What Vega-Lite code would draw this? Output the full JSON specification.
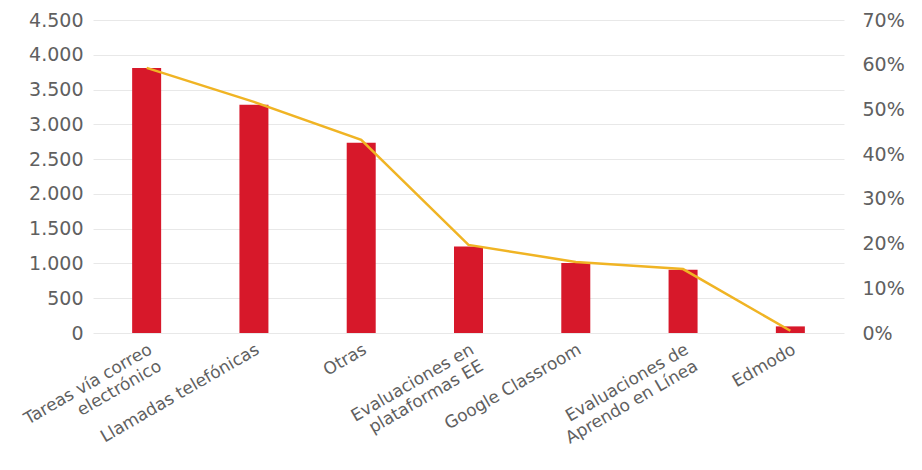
{
  "$schema": "https://vega.github.io/schema/vega-lite/v6.json",
  "width": 751,
  "height": 313,
  "autosize": {"type": "none"},
  "padding": {"left": 93, "top": 20, "right": 78, "bottom": 137},
  "background": "white",
  "config": {
    "view": {"stroke": null},
    "font": "DejaVu Sans",
    "axis": {"labelFont": "DejaVu Sans", "labelColor": "#606060", "labelFontSize": 19, "domain": false, "ticks": false}
  },
  "data": {
    "values": [
      {"canal": "Tareas vía correo electrónico", "cantidad": 3810, "pct": 0.593},
      {"canal": "Llamadas telefónicas", "cantidad": 3280, "pct": 0.517},
      {"canal": "Otras", "cantidad": 2735, "pct": 0.432},
      {"canal": "Evaluaciones en plataformas EE", "cantidad": 1245, "pct": 0.197},
      {"canal": "Google Classroom", "cantidad": 1005, "pct": 0.159},
      {"canal": "Evaluaciones de Aprendo en Línea", "cantidad": 910, "pct": 0.143},
      {"canal": "Edmodo", "cantidad": 95, "pct": 0.005}
    ]
  },
  "encoding": {
    "x": {
      "field": "canal",
      "type": "nominal",
      "sort": null,
      "scale": {"paddingInner": 0.73, "paddingOuter": 0.365},
      "axis": {
        "title": null,
        "labelAngle": -30,
        "labelFontSize": 17,
        "labelPadding": 8,
        "labelExpr": "datum.value == 'Tareas vía correo electrónico' ? ['Tareas vía correo', 'electrónico'] : datum.value == 'Evaluaciones en plataformas EE' ? ['Evaluaciones en', 'plataformas EE'] : datum.value == 'Evaluaciones de Aprendo en Línea' ? ['Evaluaciones de', 'Aprendo en Línea'] : datum.value"
      }
    }
  },
  "layer": [
    {
      "mark": {"type": "bar", "color": "#D7182A", "size": 29},
      "encoding": {
        "y": {
          "field": "cantidad",
          "type": "quantitative",
          "scale": {"domain": [0, 4500], "nice": false},
          "axis": {
            "title": null,
            "values": [0, 500, 1000, 1500, 2000, 2500, 3000, 3500, 4000, 4500],
            "labelExpr": "replace(format(datum.value, ',d'), ',', '.')",
            "labelPadding": 10,
            "grid": true,
            "gridColor": "#e8e8e8",
            "gridWidth": 1
          }
        }
      }
    },
    {
      "mark": {"type": "line", "color": "#F0B424", "strokeWidth": 2.5},
      "encoding": {
        "y": {
          "field": "pct",
          "type": "quantitative",
          "scale": {"domain": [0, 0.7], "nice": false},
          "axis": {
            "title": null,
            "orient": "right",
            "values": [0, 0.1, 0.2, 0.3, 0.4, 0.5, 0.6, 0.7],
            "format": ".0%",
            "labelPadding": 18,
            "grid": false
          }
        }
      }
    }
  ],
  "resolve": {"scale": {"y": "independent"}}
}
